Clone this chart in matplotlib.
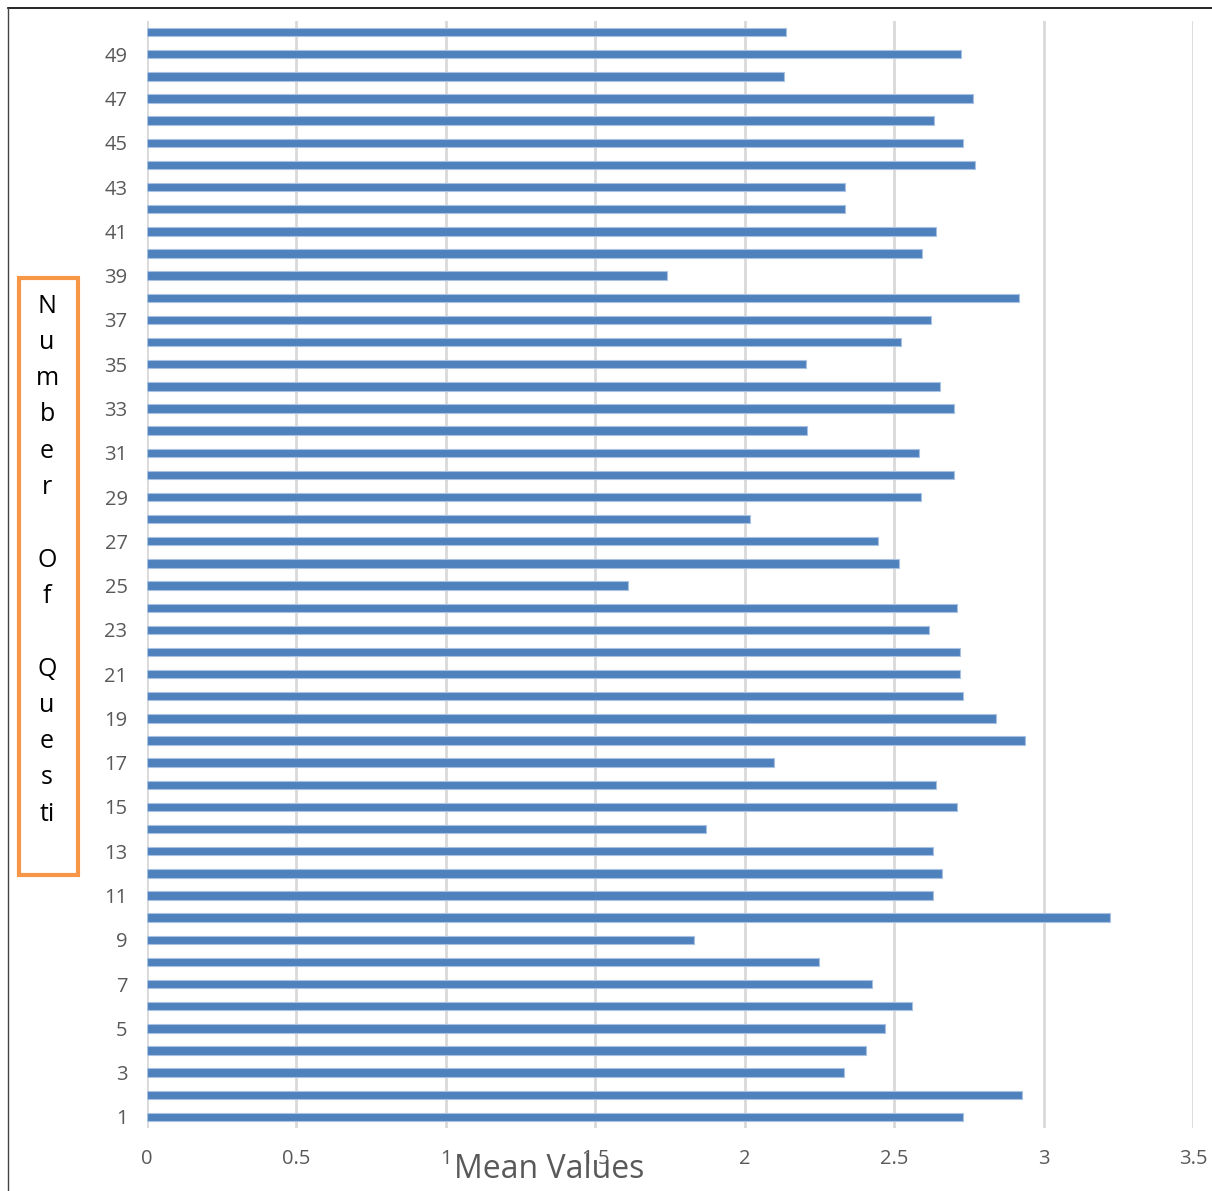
import matplotlib
matplotlib.use("Agg")
import matplotlib.pyplot as plt
from matplotlib.patches import Rectangle
from matplotlib.lines import Line2D

plt.rcParams['font.family'] = ['Open Sans', 'DejaVu Sans']

# Question numbers and their mean scores
questions = list(range(1, 51))
mean_values = [
    2.730, 2.927, 2.332, 2.405, 2.469, 2.559, 2.426, 2.248, 1.830, 3.222,
    2.630, 2.660, 2.630, 1.870, 2.710, 2.640, 2.098, 2.937, 2.840, 2.730,
    2.720, 2.720, 2.616, 2.710, 1.609, 2.516, 2.446, 2.017, 2.590, 2.700,
    2.583, 2.208, 2.700, 2.653, 2.205, 2.523, 2.623, 2.917, 1.740, 2.593,
    2.640, 2.335, 2.335, 2.770, 2.730, 2.633, 2.763, 2.131, 2.723, 2.138,
]
x_ticks = [0, 0.5, 1, 1.5, 2, 2.5, 3, 3.5]
x_tick_labels = ["0", "0.5", "1", "1.5", "2", "2.5", "3", "3.5"]
y_tick_values = list(range(1, 51, 2))
y_label_letters = ["N", "u", "m", "b", "e", "r", "", "O", "f", "", "Q", "u", "e", "s", "ti"]
x_label = "Mean Values"

W, H = 1212, 1191
fig = plt.figure(figsize=(W / 100, H / 100), dpi=100)
ax = fig.add_axes([147 / W, 1 - 1128 / H, (1193 - 147) / W, (1128 - 21) / H])

ax.barh(questions, mean_values, height=0.38, color="#4F81BD",
        edgecolor="#A9C2E2", linewidth=0.8, zorder=3)

ax.set_xlim(0, 3.5)
ax.set_ylim(0.5, 50.5)
ax.set_xticks(x_ticks)
ax.set_xticklabels(x_tick_labels)
ax.set_yticks(y_tick_values)
ax.set_yticklabels([str(v) for v in y_tick_values])
ax.tick_params(axis="both", length=0, labelsize=14.5, labelcolor="#595959")
ax.tick_params(axis="x", pad=15)
ax.tick_params(axis="y", pad=14)
for s in ax.spines.values():
    s.set_visible(False)
ax.grid(axis="x", color="#D9D9D9", linewidth=2, zorder=0)
ax.grid(axis="y", visible=False)

# x axis title, offset to the left of center
fig.text(549 / W, 1 - 1170 / H, x_label, fontsize=23, color="#595959",
         ha="center", va="center")

# stacked y axis title inside an orange frame
fig.add_artist(Rectangle((19 / W, 1 - 875 / H), (78 - 19) / W, (875 - 278) / H,
                         transform=fig.transFigure, fill=False,
                         edgecolor="#F79646", linewidth=3))
top_letter_y = 306
step = 36.3
for i, ch in enumerate(y_label_letters):
    if ch:
        fig.text(47 / W, 1 - (top_letter_y + i * step) / H, ch, fontsize=18,
                 color="black", ha="center", va="center")

# outer frame lines
fig.add_artist(Line2D([8 / W, 1.0], [1 - 8 / H, 1 - 8 / H],
                      transform=fig.transFigure, color="black", linewidth=1.2))
fig.add_artist(Line2D([8 / W, 8 / W], [0.0, 1 - 8 / H],
                      transform=fig.transFigure, color="#444444", linewidth=1.0))

fig.savefig("out.png", dpi=100)
